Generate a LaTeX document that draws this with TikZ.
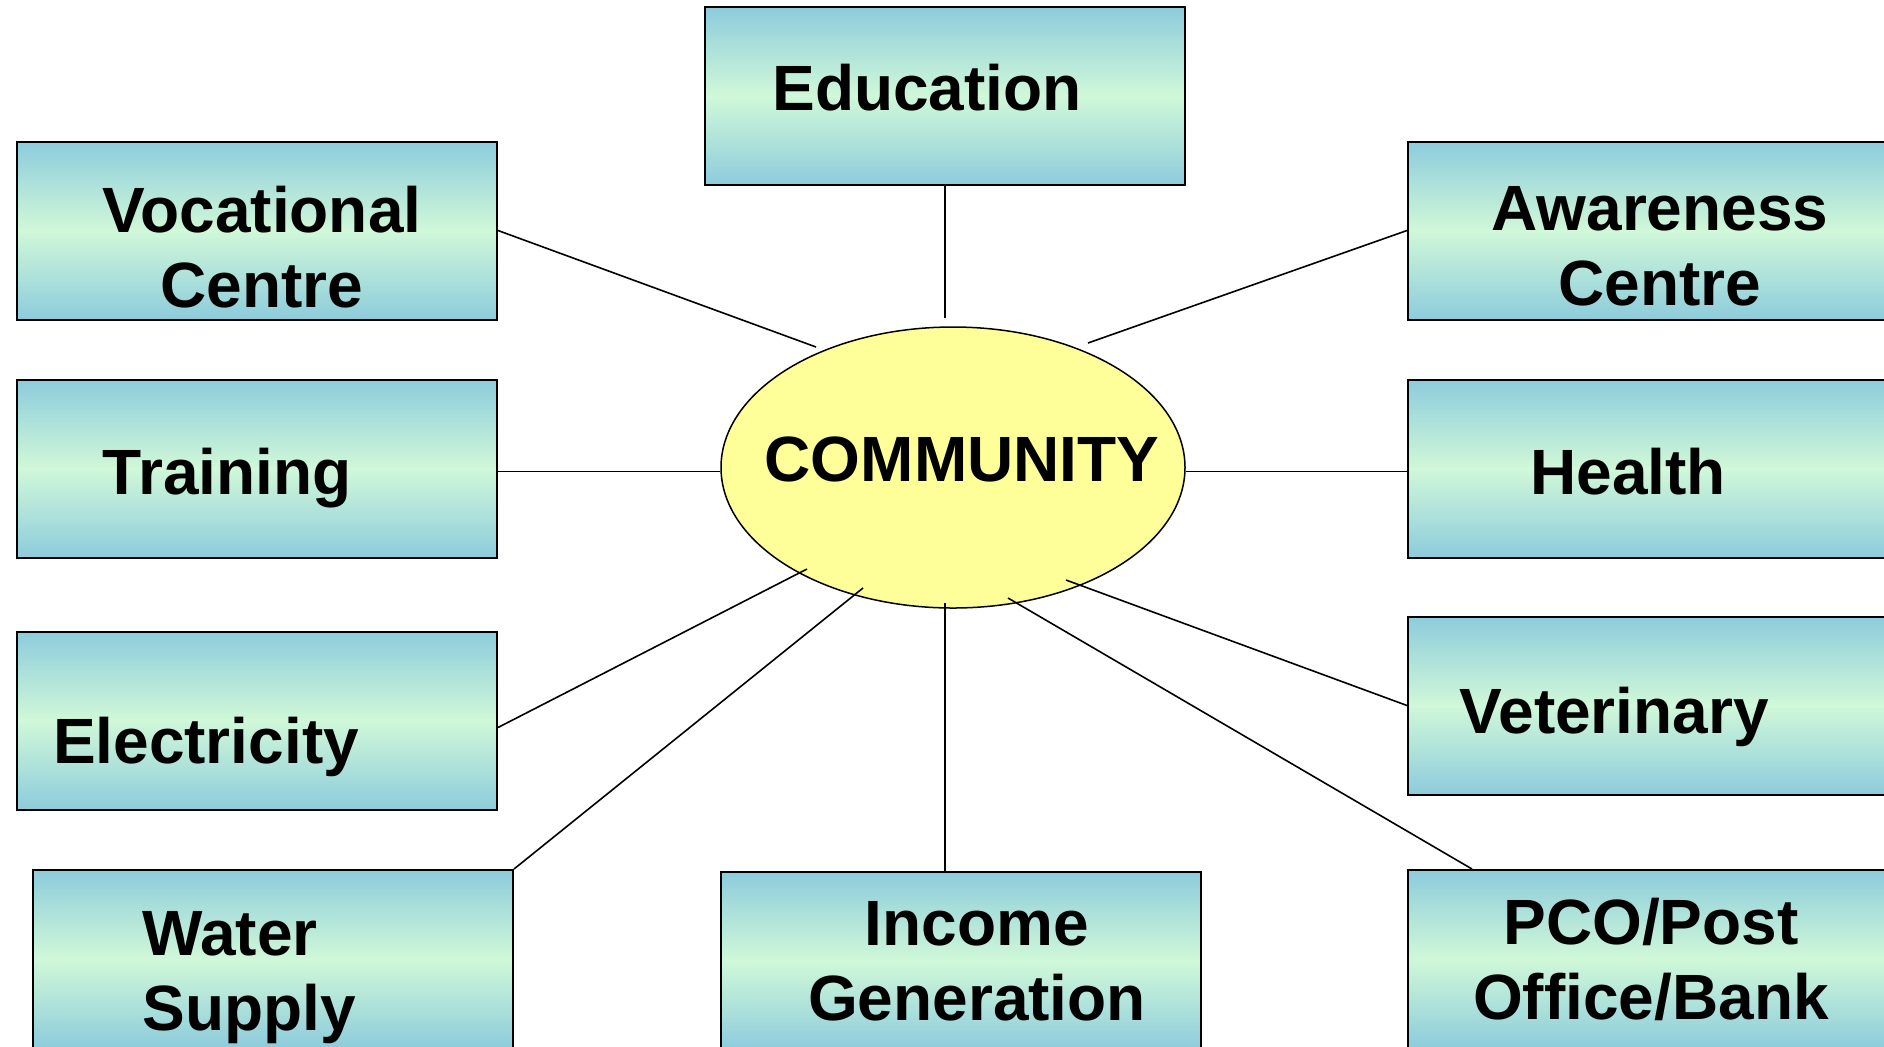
\documentclass[tikz,border=0pt]{standalone}
\usepackage{fontspec}
\setmainfont{Liberation Sans}
\usetikzlibrary{shapes.geometric,calc}

\definecolor{boxblue}{RGB}{141,204,220}
\definecolor{boxmint}{RGB}{208,248,217}
\definecolor{hubyellow}{RGB}{255,255,153}

\begin{document}
\begin{tikzpicture}[x=0.5pt,y=-0.5pt,
    topic/.style={draw,line width=1pt,minimum width=240pt,minimum height=89pt,
                  inner sep=0pt,top color=boxblue,bottom color=boxblue,middle color=boxmint},
    txt/.style={font=\fontsize{32}{37.5}\selectfont\bfseries,align=center,inner sep=0pt},
    hub/.style={ellipse,draw,line width=0.75pt,fill=hubyellow,
                minimum width=232pt,minimum height=140.5pt,inner sep=0pt},
    link/.style={line width=0.8pt}]
	\useasboundingbox (0,0) rectangle (1884,1046);
	\clip (0,0) rectangle (1884,1046);

	% centre
	\node[hub,label={[txt,xshift=4.5pt,yshift=4.25pt]center:COMMUNITY}] (com) at (953,467.5) {};

	% surrounding boxes
	\node[topic,label={[txt,xshift=-9pt,yshift=4pt]center:Education}]		(edu) at (945,96) {};
	\node[topic,label={[txt,xshift=2.5pt,yshift=-8.25pt]center:{Vocational\\Centre}}]	(voc) at (257,230.5) {};
	\node[topic,label={[txt,xshift=6pt,yshift=-7.75pt]center:{Awareness\\Centre}}]	(awa) at (1648,230.5) {};
	\node[topic,label={[txt,xshift=-15pt,yshift=-5pt]center:Training}]		(trn) at (257,468.5) {};
	\node[topic,label={[txt,xshift=-10pt,yshift=-1.75pt]center:Health}]		(hea) at (1648,468.5) {};
	\node[topic,label={[txt,xshift=-25.5pt,yshift=-13pt]center:Electricity}]	(ele) at (257,720.5) {};
	\node[topic,label={[txt,xshift=-17pt,yshift=-5.5pt]center:Veterinary}]	(vet) at (1648,705.5) {};
	\node[topic,label={[txt,align=left,xshift=-12pt,yshift=-9.5pt]center:{Water\\Supply}}]	(wat) at (273,959) {};
	\node[topic,label={[txt,xshift=8pt]center:{Income\\Generation}}]		(inc) at (961,961) {};
	\node[topic,label={[txt,xshift=1.5pt]center:{PCO/Post\\Office/Bank}}]	(pco) at (1648,959) {};

	% where the spokes stop near the ellipse
	\coordinate (e-edu) at (945,318);
	\coordinate (e-voc) at (816,347);
	\coordinate (e-awa) at (1088,343);
	\coordinate (e-ele) at (807,569);
	\coordinate (e-wat) at (863,588);
	\coordinate (e-inc) at (945,603);
	\coordinate (e-pco) at (1008,598);
	\coordinate (e-vet) at (1066,580);
	\coordinate (e-trn) at ($(trn.east)+(0,3)$);
	\coordinate (e-hea) at ($(hea.west)+(0,3)$);

	\draw[link] (edu.south) -- (e-edu);
	\draw[link] (voc.east) -- (e-voc);
	\draw[link] (awa.west) -- (e-awa);
	\draw[link] (e-trn) -- (e-trn -| com.west);
	\draw[link] (e-hea) -- (e-hea -| com.east);
	\draw[link] ($(ele.east)+(0,7)$) -- (e-ele);
	\draw[link] (vet.west) -- (e-vet);
	\draw[link] (wat.north east) -- (e-wat);
	\draw[link] (e-inc) -- (e-inc |- inc.north);
	\draw[link] ($(pco.north west)+(65,0)$) -- (e-pco);
\end{tikzpicture}
\end{document}
